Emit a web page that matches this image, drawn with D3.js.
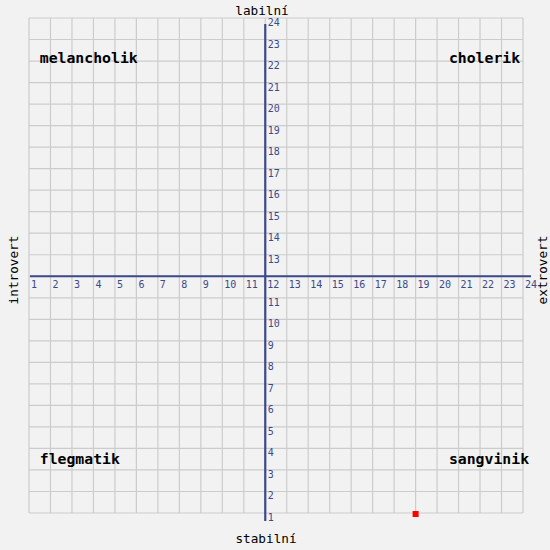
<!DOCTYPE html>
<html>
<head>
<meta charset="utf-8">
<script src="https://cdn.jsdelivr.net/npm/d3@7"></script>
<style>
  body { margin: 0; background: #f2f2f2; }
  svg { display: block; }
</style>
</head>
<body>
<svg id="chart" width="550" height="550"></svg>
<script>
const ticks = d3.range(1, 25);
const axisTitles = { top: 'labilní', bottom: 'stabilní', left: 'introvert', right: 'extrovert' };
const quadrants = ['melancholik', 'cholerik', 'flegmatik', 'sangvinik'];
const quadrantPos = [[1.5, 21.9], [20.55, 21.9], [1.5, 3.3], [20.55, 3.3]];
const points = [[19, 1]];

const svg = d3.select('#chart');
const AXIS_COLOR = '#3b4a8a';

const x = d3.scaleLinear().domain([1, 24]).range([29, 523]);
const y = d3.scaleLinear().domain([1, 24]).range([513, 18]);

svg.append('rect').attr('width', 550).attr('height', 550).attr('fill', '#f2f2f2');

// grid
const grid = svg.append('g').attr('stroke', '#cccccc').attr('stroke-width', 1.2);
grid.selectAll('.v').data(ticks).enter().append('line')
  .attr('x1', (d) => x(d)).attr('x2', (d) => x(d))
  .attr('y1', y(24)).attr('y2', y(1));
grid.selectAll('.h').data(ticks).enter().append('line')
  .attr('y1', (d) => y(d)).attr('y2', (d) => y(d))
  .attr('x1', x(1)).attr('x2', x(24));

// main axes through 12
svg.append('line')
  .attr('x1', x(12)).attr('x2', x(12))
  .attr('y1', y(24) + 6).attr('y2', y(1) + 8)
  .attr('stroke', AXIS_COLOR).attr('stroke-width', 2.2);
svg.append('line')
  .attr('x1', x(1) + 1).attr('x2', x(24) + 8)
  .attr('y1', y(12)).attr('y2', y(12))
  .attr('stroke', AXIS_COLOR).attr('stroke-width', 2.2);

const tickFont = '"DejaVu Sans Mono", monospace';

svg.append('g').selectAll('text').data(ticks).enter().append('text')
  .attr('x', (d) => x(d) + 2)
  .attr('y', y(12) + 11.5)
  .attr('font-family', tickFont).attr('font-size', 10)
  .attr('fill', AXIS_COLOR)
  .text((d) => d);

svg.append('g').selectAll('text').data(ticks.filter((d) => d !== 12)).enter().append('text')
  .attr('x', x(12) + 2.5)
  .attr('y', (d) => y(d) + 8)
  .attr('font-family', tickFont).attr('font-size', 10)
  .attr('fill', AXIS_COLOR)
  .text((d) => d);

// quadrant names
svg.append('g').selectAll('text').data(quadrants).enter().append('text')
  .attr('x', (d, i) => x(quadrantPos[i][0]))
  .attr('y', (d, i) => y(quadrantPos[i][1]))
  .attr('font-family', tickFont).attr('font-size', 14.8)
  .attr('font-weight', 'bold')
  .attr('fill', '#000')
  .text((d) => d);

// axis titles
const titleStyle = (s) => s.attr('font-family', tickFont).attr('font-size', 12.7).attr('fill', '#000');
svg.append('text').call(titleStyle)
  .attr('x', 262).attr('y', 15).attr('text-anchor', 'middle').text(axisTitles.top);
svg.append('text').call(titleStyle)
  .attr('x', 266).attr('y', 543).attr('text-anchor', 'middle').text(axisTitles.bottom);
svg.append('text').call(titleStyle)
  .attr('transform', 'translate(18,270) rotate(-90)')
  .attr('text-anchor', 'middle').text(axisTitles.left);
svg.append('text').call(titleStyle)
  .attr('transform', 'translate(547,270) rotate(-90)')
  .attr('text-anchor', 'middle').text(axisTitles.right);

// data points
svg.append('g').selectAll('rect').data(points).enter().append('rect')
  .attr('x', (d) => x(d[0]) - 3)
  .attr('y', (d) => y(d[1]) - 2)
  .attr('width', 6).attr('height', 6)
  .attr('fill', '#ff0000');
</script>
</body>
</html>
